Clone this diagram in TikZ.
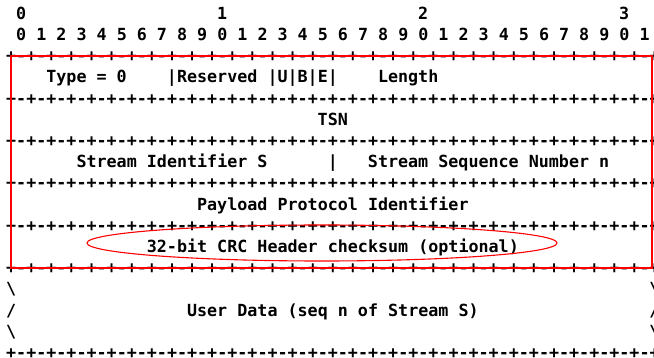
\documentclass[tikz,border=0pt]{standalone}
\usepackage{fontspec}
\usetikzlibrary{shapes.geometric}
\newfontfamily\asciifont{DejaVu Sans Mono}
% column and row grid of the character layout (1 unit = 1pt)
\newcommand\cx[1]{5.975+10.05*(#1)}
\newcommand\ry[1]{19.4+21.2*(#1)}
\def\sepeight{+-+-+-+-}
\def\sepline{\sepeight\sepeight\sepeight\sepeight\sepeight\sepeight\sepeight\sepeight+}
\tikzset{
  ascii/.style={font=\asciifont\bfseries\fontsize{16.7}{20}\selectfont,
    inner sep=0pt, anchor=base west, text=black},
  redframe/.style={draw=red, line width=2pt},
  redring/.style={draw=red, line width=1.1pt, ellipse, inner sep=0pt,
    minimum width=470pt, minimum height=36pt}
}
\begin{document}
\begin{tikzpicture}[x=1pt, y=-1pt]
\useasboundingbox (0,0) rectangle (654,358);
\clip (0,0) rectangle (654,358);
\fill[white] (0,0) rectangle (654,358);
% bit ruler
\node[ascii] (tens0) at ({\cx{1}},{\ry{0}}) {0};
\node[ascii] (tens1) at ({\cx{21}},{\ry{0}}) {1};
\node[ascii] (tens2) at ({\cx{41}},{\ry{0}}) {2};
\node[ascii] (tens3) at ({\cx{61}},{\ry{0}}) {3};
\node[ascii] (units) at ({\cx{1}},{\ry{1}}) {0 1 2 3 4 5 6 7 8 9 0 1 2 3 4 5 6 7 8 9 0 1 2 3 4 5 6 7 8 9 0 1};
% separator lines
\foreach \r in {2,4,6,8,10,12,16}
  \node[ascii] (sep\r) at ({\cx{0}},{\ry{\r}}) {\sepline};
% header fields
\node[ascii] (type) at ({\cx{4}},{\ry{3}}) {Type = 0};
\node[ascii] (flags) at ({\cx{16}},{\ry{3}}) {|Reserved |U|B|E|};
\node[ascii] (length) at ({\cx{37}},{\ry{3}}) {Length};
\node[ascii] (tsn) at ({\cx{31}},{\ry{5}}) {TSN};
\node[ascii] (sid) at ({\cx{7}},{\ry{7}}) {Stream Identifier S};
\node[ascii] (sbar) at ({\cx{32}},{\ry{7}}) {|};
\node[ascii] (ssn) at ({\cx{36}},{\ry{7}}) {Stream Sequence Number n};
\node[ascii] (ppid) at ({\cx{19}},{\ry{9}}) {Payload Protocol Identifier};
\node[ascii] (crc) at ({\cx{14}},{\ry{11}}) {32-bit CRC Header checksum (optional)};
% user data
\node[ascii] (lA) at ({\cx{0}},{\ry{13}}) {\textbackslash};
\node[ascii] (lB) at ({\cx{0}},{\ry{14}}) {/};
\node[ascii] (lC) at ({\cx{0}},{\ry{15}}) {\textbackslash};
\node[ascii] (rA) at ({\cx{64}},{\ry{13}}) {\textbackslash};
\node[ascii] (rB) at ({\cx{64}},{\ry{14}}) {/};
\node[ascii] (rC) at ({\cx{64}},{\ry{15}}) {\textbackslash};
\node[ascii] (udata) at ({\cx{18}},{\ry{14}}) {User Data (seq n of Stream S)};
% red highlights
\draw[redframe] (11,56) rectangle (652,268);
\node[redring] (crcmark) at (322,243) {};
\end{tikzpicture}
\end{document}
